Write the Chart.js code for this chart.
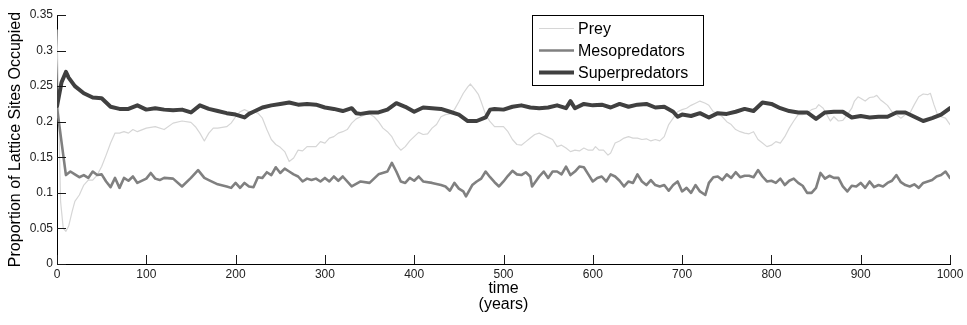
<!DOCTYPE html>
<html>
<head>
<meta charset="utf-8">
<script src="https://cdn.jsdelivr.net/npm/chart.js@4/dist/chart.umd.min.js"></script>
<style>
	html, body { margin: 0; padding: 0; background: #fff; }
	#wrap { width: 967px; height: 325px; }
</style>
</head>
<body>
<div id="wrap"><canvas id="popChart" width="967" height="325"></canvas></div>
<script>
// --- Data ---
const seriesNames = ["Prey", "Mesopredators", "Superpredators"];

const preyTime = [0, 2, 4, 7, 10, 13, 17, 20, 25, 30, 35, 40, 45, 50, 55, 60, 65, 70, 75, 80, 85, 90, 100, 110, 120, 130, 140, 150, 155, 160, 165, 170, 175, 180, 190, 195, 200, 205, 210, 215, 220, 225, 230, 235, 240, 245, 250, 255, 260, 265, 270, 275, 280, 285, 290, 295, 300, 305, 310, 315, 320, 325, 330, 335, 340, 345, 350, 355, 360, 365, 370, 375, 380, 385, 390, 395, 400, 405, 410, 415, 420, 425, 430, 435, 440, 445, 450, 455, 460, 463, 468, 472, 475, 480, 485, 490, 495, 500, 505, 510, 515, 520, 525, 530, 535, 540, 545, 550, 555, 560, 565, 570, 575, 580, 585, 590, 595, 600, 603, 607, 612, 617, 620, 625, 630, 635, 640, 645, 650, 655, 660, 665, 670, 675, 680, 685, 690, 695, 700, 705, 710, 715, 720, 726, 730, 735, 740, 745, 750, 755, 760, 765, 770, 775, 780, 785, 790, 795, 800, 805, 810, 815, 820, 825, 830, 835, 840, 845, 850, 853, 858, 862, 866, 870, 875, 880, 885, 890, 893, 897, 900, 905, 910, 915, 918, 922, 925, 930, 935, 940, 945, 950, 955, 960, 965, 970, 975, 978, 982, 986, 990, 995, 1000];
const preyShare = [0.329, 0.21, 0.088, 0.05, 0.046, 0.053, 0.074, 0.088, 0.097, 0.111, 0.118, 0.118, 0.125, 0.137, 0.153, 0.17, 0.184, 0.184, 0.186, 0.184, 0.189, 0.186, 0.191, 0.193, 0.189, 0.198, 0.201, 0.199, 0.193, 0.184, 0.173, 0.184, 0.191, 0.191, 0.193, 0.198, 0.207, 0.214, 0.217, 0.214, 0.214, 0.212, 0.205, 0.189, 0.175, 0.168, 0.164, 0.158, 0.144, 0.149, 0.16, 0.159, 0.165, 0.165, 0.165, 0.172, 0.17, 0.177, 0.179, 0.184, 0.186, 0.189, 0.198, 0.204, 0.207, 0.21, 0.211, 0.207, 0.2, 0.191, 0.186, 0.179, 0.167, 0.16, 0.165, 0.173, 0.179, 0.185, 0.182, 0.183, 0.191, 0.196, 0.207, 0.21, 0.211, 0.217, 0.228, 0.24, 0.249, 0.253, 0.245, 0.238, 0.228, 0.21, 0.2, 0.193, 0.193, 0.193, 0.186, 0.175, 0.168, 0.167, 0.172, 0.177, 0.182, 0.184, 0.181, 0.178, 0.175, 0.165, 0.167, 0.163, 0.158, 0.16, 0.159, 0.163, 0.16, 0.16, 0.165, 0.16, 0.16, 0.153, 0.156, 0.17, 0.173, 0.177, 0.179, 0.177, 0.177, 0.175, 0.176, 0.173, 0.175, 0.173, 0.179, 0.196, 0.205, 0.214, 0.217, 0.219, 0.223, 0.226, 0.229, 0.226, 0.223, 0.214, 0.212, 0.207, 0.2, 0.196, 0.189, 0.186, 0.184, 0.183, 0.186, 0.175, 0.17, 0.165, 0.167, 0.172, 0.17, 0.179, 0.191, 0.201, 0.21, 0.21, 0.212, 0.217, 0.219, 0.224, 0.219, 0.21, 0.201, 0.207, 0.201, 0.202, 0.21, 0.219, 0.229, 0.235, 0.233, 0.229, 0.234, 0.235, 0.237, 0.231, 0.228, 0.223, 0.214, 0.21, 0.205, 0.21, 0.212, 0.224, 0.235, 0.239, 0.238, 0.24, 0.224, 0.21, 0.207, 0.205, 0.196];

const mesoTime = [0, 5, 10, 15, 20, 25, 30, 35, 40, 45, 50, 55, 60, 65, 70, 75, 80, 85, 90, 100, 105, 110, 115, 120, 130, 140, 150, 158, 165, 170, 180, 190, 195, 200, 205, 210, 215, 220, 225, 230, 235, 240, 245, 250, 255, 260, 265, 270, 275, 280, 285, 290, 295, 300, 305, 310, 315, 320, 330, 340, 350, 360, 370, 375, 380, 385, 390, 395, 400, 405, 410, 420, 430, 435, 440, 445, 450, 455, 458, 465, 470, 475, 480, 485, 490, 495, 500, 505, 510, 515, 520, 525, 530, 532, 540, 545, 550, 555, 560, 565, 570, 575, 580, 585, 590, 595, 600, 605, 610, 615, 620, 625, 630, 635, 640, 645, 650, 655, 660, 665, 670, 675, 680, 685, 690, 695, 700, 705, 710, 715, 720, 726, 730, 735, 740, 745, 750, 755, 760, 765, 770, 775, 780, 785, 790, 795, 800, 805, 810, 815, 820, 825, 830, 835, 840, 845, 850, 855, 860, 865, 870, 875, 880, 885, 890, 895, 900, 905, 910, 915, 920, 925, 930, 935, 940, 945, 950, 955, 960, 965, 970, 975, 980, 985, 990, 995, 1000];
const mesoShare = [0.22, 0.172, 0.125, 0.13, 0.126, 0.122, 0.125, 0.121, 0.13, 0.125, 0.126, 0.116, 0.108, 0.121, 0.107, 0.121, 0.117, 0.123, 0.114, 0.12, 0.128, 0.12, 0.118, 0.121, 0.12, 0.109, 0.121, 0.132, 0.121, 0.118, 0.112, 0.109, 0.107, 0.114, 0.107, 0.114, 0.109, 0.108, 0.122, 0.121, 0.129, 0.125, 0.136, 0.128, 0.134, 0.13, 0.126, 0.123, 0.116, 0.12, 0.118, 0.12, 0.116, 0.121, 0.116, 0.123, 0.117, 0.123, 0.109, 0.116, 0.114, 0.126, 0.13, 0.142, 0.13, 0.116, 0.114, 0.121, 0.117, 0.123, 0.116, 0.114, 0.111, 0.109, 0.103, 0.114, 0.106, 0.102, 0.095, 0.111, 0.116, 0.12, 0.13, 0.122, 0.115, 0.109, 0.116, 0.124, 0.131, 0.126, 0.125, 0.129, 0.123, 0.109, 0.123, 0.13, 0.121, 0.13, 0.13, 0.126, 0.137, 0.125, 0.13, 0.137, 0.136, 0.126, 0.116, 0.121, 0.123, 0.116, 0.126, 0.123, 0.117, 0.109, 0.116, 0.114, 0.126, 0.116, 0.111, 0.118, 0.111, 0.109, 0.111, 0.103, 0.111, 0.116, 0.102, 0.107, 0.1, 0.111, 0.102, 0.097, 0.114, 0.122, 0.123, 0.118, 0.126, 0.121, 0.129, 0.122, 0.124, 0.124, 0.122, 0.132, 0.123, 0.116, 0.117, 0.114, 0.12, 0.111, 0.117, 0.12, 0.114, 0.11, 0.1, 0.1, 0.107, 0.128, 0.12, 0.124, 0.121, 0.121, 0.109, 0.102, 0.11, 0.109, 0.114, 0.107, 0.116, 0.108, 0.111, 0.109, 0.114, 0.117, 0.125, 0.115, 0.111, 0.109, 0.112, 0.107, 0.114, 0.116, 0.118, 0.123, 0.125, 0.13, 0.121];

const superTime = [0, 5, 10, 13, 20, 30, 40, 50, 55, 60, 70, 80, 90, 100, 110, 120, 130, 140, 150, 160, 170, 180, 190, 200, 210, 215, 220, 230, 240, 250, 260, 270, 280, 290, 300, 310, 320, 330, 335, 340, 350, 360, 370, 380, 390, 400, 410, 420, 430, 440, 450, 460, 470, 480, 485, 490, 500, 510, 520, 530, 540, 550, 560, 570, 575, 580, 590, 600, 610, 620, 630, 640, 650, 660, 670, 680, 690, 695, 700, 710, 720, 730, 740, 750, 760, 770, 780, 790, 800, 810, 820, 830, 840, 850, 860, 870, 880, 890, 900, 910, 920, 930, 940, 950, 960, 970, 980, 990, 1000];
const superShare = [0.222, 0.255, 0.27, 0.262, 0.25, 0.24, 0.234, 0.233, 0.227, 0.221, 0.218, 0.218, 0.223, 0.217, 0.219, 0.217, 0.216, 0.217, 0.213, 0.223, 0.218, 0.215, 0.212, 0.21, 0.206, 0.211, 0.214, 0.22, 0.223, 0.225, 0.227, 0.224, 0.225, 0.224, 0.22, 0.218, 0.215, 0.219, 0.212, 0.211, 0.213, 0.213, 0.217, 0.226, 0.221, 0.214, 0.22, 0.219, 0.218, 0.214, 0.21, 0.201, 0.201, 0.206, 0.217, 0.218, 0.217, 0.221, 0.223, 0.22, 0.219, 0.22, 0.223, 0.219, 0.229, 0.219, 0.225, 0.223, 0.224, 0.22, 0.225, 0.221, 0.224, 0.225, 0.22, 0.221, 0.214, 0.207, 0.21, 0.208, 0.212, 0.206, 0.212, 0.211, 0.214, 0.218, 0.215, 0.227, 0.225, 0.219, 0.215, 0.213, 0.213, 0.204, 0.213, 0.214, 0.214, 0.206, 0.208, 0.206, 0.207, 0.207, 0.213, 0.213, 0.207, 0.201, 0.205, 0.21, 0.219];

// axis ticks
const timeTicks = [0, 100, 200, 300, 400, 500, 600, 700, 800, 900, 1000];
const shareTicks = [0, 0.05, 0.1, 0.15, 0.2, 0.25, 0.3, 0.35];

const FONT = '"Liberation Sans", Arial, sans-serif';

function toPoints(times, values) {
	return times.map((t, i) => ({ x: t, y: values[i] }));
}

// --- Inward tick marks + boxed legend inside the plot (MATLAB look) ---
const matlabDecor = {
	id: "matlabDecor",
	afterDatasetsDraw(chart) {
		const c = chart.ctx;
		const area = chart.chartArea;
		const xs = chart.scales.x;
		const ys = chart.scales.y;
		c.save();
		c.lineWidth = 1;
		c.strokeStyle = "#1a1a1a";
		c.beginPath();
		for (const v of timeTicks) {
			const px = Math.round(xs.getPixelForValue(v)) + 0.5;
			c.moveTo(px, area.bottom);
			c.lineTo(px, area.bottom - 9);
		}
		for (const v of shareTicks) {
			const py = Math.round(ys.getPixelForValue(v)) + 0.5;
			c.moveTo(area.left, py);
			c.lineTo(area.left + 9, py);
		}
		c.stroke();
		c.restore();
	},
	afterDraw(chart) {
		const c = chart.ctx;
		c.save();
		// legend box
		const box = { left: 532, top: 15, width: 171, height: 70 };
		c.fillStyle = "#fff";
		c.fillRect(box.left, box.top, box.width, box.height);
		c.lineWidth = 1;
		c.strokeStyle = "#000";
		c.strokeRect(box.left + 0.5, box.top + 0.5, box.width, box.height);
		c.font = "16px " + FONT;
		c.textBaseline = "middle";
		c.textAlign = "left";
		chart.data.datasets.forEach((ds, i) => {
			const rowY = box.top + 13.5 + i * 22;
			c.beginPath();
			c.strokeStyle = ds.borderColor;
			c.lineWidth = ds.borderWidth;
			c.moveTo(box.left + 7, rowY);
			c.lineTo(box.left + 42, rowY);
			c.stroke();
			c.fillStyle = "#000";
			c.fillText(ds.label, box.left + 46, rowY + 1);
		});
		c.restore();
	},
};

const ctx = document.getElementById("popChart").getContext("2d");

new Chart(ctx, {
	type: "line",
	data: {
		datasets: [
			{
				label: seriesNames[0],
				data: toPoints(preyTime, preyShare),
				borderColor: "#d6d6d6",
				borderWidth: 1.2,
				order: 2,
			},
			{
				label: seriesNames[1],
				data: toPoints(mesoTime, mesoShare),
				borderColor: "#808080",
				borderWidth: 2.6,
				order: 1,
			},
			{
				label: seriesNames[2],
				data: toPoints(superTime, superShare),
				borderColor: "#404040",
				borderWidth: 4,
				order: 0,
			},
		],
	},
	options: {
		responsive: false,
		animation: false,
		events: [],
		layout: { padding: { left: 0, right: 17, top: 15, bottom: 0 } },
		elements: {
			point: { radius: 0 },
			line: { tension: 0, borderJoinStyle: "round", borderCapStyle: "round" },
		},
		plugins: {
			legend: { display: false },
			tooltip: { enabled: false },
		},
		scales: {
			x: {
				type: "linear",
				min: 0,
				max: 1000,
				afterBuildTicks: (scale) => {
					scale.ticks = timeTicks.map((v) => ({ value: v }));
				},
				afterFit: (scale) => {
					scale.height = 61;
				},
				grid: { display: false, drawTicks: false },
				border: { display: true, color: "#000", width: 1 },
				ticks: {
					color: "#222",
					font: { family: FONT, size: 12 },
					padding: 3,
					maxRotation: 0,
					autoSkip: false,
					callback: (value) => String(value),
				},
				title: {
					display: true,
					text: ["time", "(years)"],
					color: "#000",
					font: { family: FONT, size: 16, lineHeight: 1 },
					padding: { top: 0, bottom: 12 },
				},
			},
			y: {
				min: 0,
				max: 0.35,
				afterBuildTicks: (scale) => {
					scale.ticks = shareTicks.map((v) => ({ value: v }));
				},
				afterFit: (scale) => {
					scale.width = 57;
				},
				grid: { display: false, drawTicks: false },
				border: { display: true, color: "#000", width: 1 },
				ticks: {
					color: "#222",
					font: { family: FONT, size: 12 },
					padding: 4,
					autoSkip: false,
					callback: (value) => Number(value.toFixed(2)).toString(),
				},
				title: {
					display: true,
					text: "Proportion of Lattice Sites Occupied",
					color: "#000",
					font: { family: FONT, size: 16, lineHeight: 1.2 },
					padding: { top: 6, bottom: 0 },
				},
			},
		},
	},
	plugins: [matlabDecor],
});
</script>
</body>
</html>
